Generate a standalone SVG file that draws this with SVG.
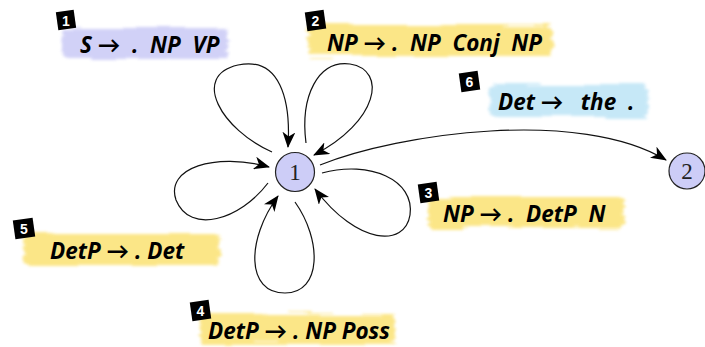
<svg xmlns="http://www.w3.org/2000/svg" width="705" height="347" viewBox="0 0 705 347">
  <defs>
    <marker id="arrow" viewBox="0 0 16 13" refX="15" refY="6.5" markerWidth="16" markerHeight="13" markerUnits="userSpaceOnUse" orient="auto">
      <path d="M0,0 L16,6.5 L0,13 L4.5,6.5 z" fill="#000"/>
    </marker>
    <filter id="brush" x="-10%" y="-40%" width="120%" height="180%">
      <feTurbulence type="fractalNoise" baseFrequency="0.015 0.35" numOctaves="2" seed="3" result="noise"/>
      <feDisplacementMap in="SourceGraphic" in2="noise" scale="10" xChannelSelector="R" yChannelSelector="G" result="disp"/>
      <feGaussianBlur in="disp" stdDeviation="1.6"/>
    </filter>
    <style>
      .edge { fill: none; stroke: #111; stroke-width: 1.2; }
      .arr { marker-end: url(#arrow); }
      .state { fill: #cdcdf7; stroke: #222; stroke-width: 1.2; }
      .stateText { font-family: "Liberation Serif", serif; font-size: 23px; fill: #222; text-anchor: middle; }
      .rule { font-family: "Open Sans", "Lato", sans-serif; font-style: italic; font-weight: bold; font-size: 22.5px; fill: #000; }
      .badge { fill: #000; }
      .badgeText { font-family: "Liberation Sans", sans-serif; font-weight: bold; font-size: 14px; fill: #fff; text-anchor: middle; }
      .hl-purple { fill: #c9c9f6; opacity: 0.85; filter: url(#brush); }
      .hl-yellow { fill: #fbe273; opacity: 0.85; filter: url(#brush); }
      .hl-blue { fill: #bde4f6; opacity: 0.85; filter: url(#brush); }
    </style>
  </defs>

  <!-- transitions -->
  <g id="connectors">
    <path class="edge arr" d="M272,152 C222,130 190,76 238,65 C280,56 291,100 288,147"/>
    <path class="edge arr" d="M306,143 C300,96 318,60 350,64 C388,70 378,122 314,155"/>
    <path class="edge arr" d="M322,173 C370,160 415,180 410,215 C405,247 358,246 315,189"/>
    <path class="edge arr" d="M295,202 C322,240 322,293 285,293 C246,293 246,240 278,196"/>
    <path class="edge arr" d="M268,183 C240,220 190,235 176,200 C165,168 215,152 269,167"/>
    <path class="edge arr" d="M320,165 C400,133 580,108 666,160"/>
  </g>

  <!-- states -->
  <g id="state-1">
    <circle class="state" cx="295" cy="172" r="19.5"/>
    <text class="stateText" x="295" y="180">1</text>
  </g>
  <g id="state-2">
    <circle class="state" cx="687" cy="171" r="18"/>
    <text class="stateText" x="687" y="179">2</text>
  </g>

  <!-- dotted rules -->
  <g id="item-1">
    <rect class="hl-purple" x="62" y="28" width="166" height="30" rx="6"/>
    <rect class="badge" x="57" y="11" width="18" height="18" transform="rotate(-8 66 20)"/>
    <text class="badgeText" x="66" y="25.5">1</text>
    <text class="rule" x="80" y="53" xml:space="preserve">S →  .  NP  VP</text>
  </g>
  <g id="item-2">
    <rect class="hl-yellow" x="308" y="25" width="245" height="31" rx="6"/>
    <rect class="badge" x="306" y="11" width="19" height="19" transform="rotate(-8 315.5 20.5)"/>
    <text class="badgeText" x="315.5" y="26">2</text>
    <text class="rule" x="327" y="51" xml:space="preserve">NP → .  NP  Conj  NP</text>
  </g>
  <g id="item-6">
    <rect class="hl-blue" x="490" y="85" width="158" height="32" rx="6"/>
    <rect class="badge" x="460" y="72" width="19" height="19" transform="rotate(-8 469.5 81.5)"/>
    <text class="badgeText" x="469.5" y="87">6</text>
    <text class="rule" x="498" y="110" xml:space="preserve">Det →   the  .</text>
  </g>
  <g id="item-3">
    <rect class="hl-yellow" x="428" y="197" width="196" height="31" rx="6"/>
    <rect class="badge" x="419" y="183" width="19" height="19" transform="rotate(-8 428.5 192.5)"/>
    <text class="badgeText" x="428.5" y="198">3</text>
    <text class="rule" x="443" y="222" xml:space="preserve">NP → .  DetP  N</text>
  </g>
  <g id="item-5">
    <rect class="hl-yellow" x="24" y="234" width="196" height="32" rx="6"/>
    <rect class="badge" x="14" y="219" width="20" height="19" transform="rotate(-8 24 228.5)"/>
    <text class="badgeText" x="24" y="234">5</text>
    <text class="rule" x="50" y="259" xml:space="preserve">DetP → . Det</text>
  </g>
  <g id="item-4">
    <rect class="hl-yellow" x="200" y="314" width="195" height="30" rx="6"/>
    <rect class="badge" x="191" y="301" width="19" height="19" transform="rotate(-8 200.5 310.5)"/>
    <text class="badgeText" x="200.5" y="316">4</text>
    <text class="rule" x="208" y="339" xml:space="preserve">DetP → . NP Poss</text>
  </g>
</svg>
